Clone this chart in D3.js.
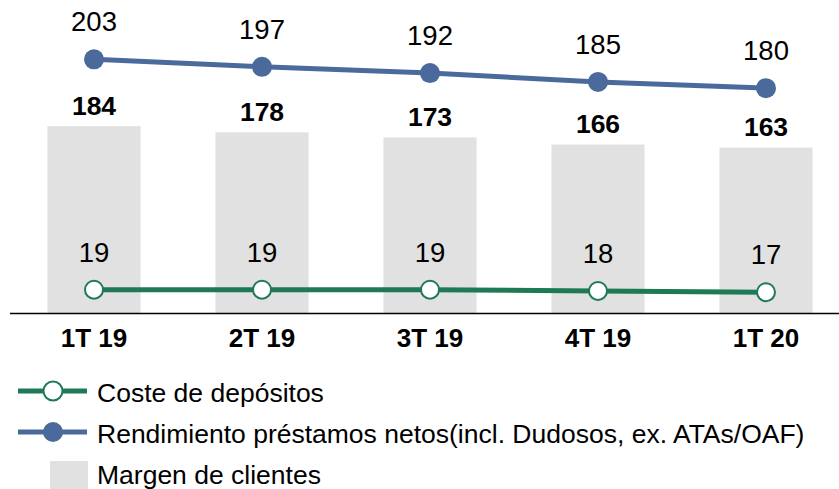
<!DOCTYPE html>
<html lang="es">
<head>
<meta charset="utf-8">
<script src="https://cdn.jsdelivr.net/npm/d3@7"></script>
<style>
  body{margin:0;background:#fff;}
  text{font-family:"Liberation Sans",Arial,sans-serif;fill:#000;}
</style>
</head>
<body>
<div id="chart"></div>
<script>
// data
var categories=["1T 19","2T 19","3T 19","4T 19","1T 20"];
var margen=[184,178,173,166,163];
var rendimiento=[203,197,192,185,180];
var coste=[19,19,19,18,17];

var width=839, height=489;
var blue="#4a6a9b", green="#1e7a56", grey="#e1e1e1";

var svg=d3.select("#chart").append("svg")
  .attr("width",width)
  .attr("height",height);

var x=d3.scaleBand()
  .domain(categories)
  .range([10,850])
  .paddingInner(0.446)
  .paddingOuter(0.223);

var yBar=d3.scaleLinear().domain([0,308]).range([313.5,0]);
var yLine=d3.scaleLinear().domain([0,250.4]).range([313.5,0]);

var cx=function(d,i){return x(categories[i])+x.bandwidth()/2;};

//bars
svg.selectAll(".bar")
  .data(margen)
  .enter()
  .append("rect")
  .attr("class","bar")
  .attr("x",function(d,i){return x(categories[i]);})
  .attr("y",function(d){return yBar(d);})
  .attr("width",x.bandwidth())
  .attr("height",function(d){return yBar(0)-yBar(d);})
  .attr("fill",grey);

svg.selectAll(".barlabel")
  .data(margen)
  .enter()
  .append("text")
  .attr("x",cx)
  .attr("y",function(d){return yBar(d)-11.5;})
  .attr("text-anchor","middle")
  .style("font-size","26.5px")
  .style("font-weight","bold")
  .text(function(d){return d;});

//axis
var xAxis=d3.axisBottom(x).tickSize(0).tickPadding(15);
var gx=svg.append("g")
  .attr("transform","translate(0,"+yBar(0)+")")
  .call(xAxis);
gx.select(".domain").attr("stroke","#000").attr("stroke-width",1.5).attr("d","M10,0H850");
gx.selectAll("text")
  .style("font-size","26px")
  .style("font-weight","bold")
  .style("font-family","'Liberation Sans',Arial,sans-serif");

//lines
function drawLine(values,color,filled){
  var line=d3.line()
    .x(function(d,i){return cx(d,i);})
    .y(function(d){return yLine(d);});

  svg.append("path")
    .datum(values)
    .attr("fill","none")
    .attr("stroke",color)
    .attr("stroke-width",5)
    .attr("d",line);

  svg.append("g").selectAll("circle")
    .data(values)
    .enter()
    .append("circle")
    .attr("cx",cx)
    .attr("cy",function(d){return yLine(d);})
    .attr("r",filled?10:9)
    .attr("fill",filled?color:"#fff")
    .attr("stroke",color)
    .attr("stroke-width",filled?0:2);

  svg.append("g").selectAll("text")
    .data(values)
    .enter()
    .append("text")
    .attr("x",cx)
    .attr("y",function(d){return yLine(d)-28;})
    .attr("text-anchor","middle")
    .style("font-size","27.5px")
    .text(function(d){return d;});
}
drawLine(rendimiento,blue,true);
drawLine(coste,green,false);

//legend
var legend=svg.append("g");
var items=[
  {name:"Coste de depósitos",type:"open",color:green,y:391},
  {name:"Rendimiento préstamos netos(incl. Dudosos, ex. ATAs/OAF)",type:"filled",color:blue,y:432},
  {name:"Margen de clientes",type:"bar",color:grey,y:474}
];
items.forEach(function(it){
  if(it.type=="bar"){
    legend.append("rect")
      .attr("x",50).attr("y",it.y-13)
      .attr("width",38).attr("height",38)
      .attr("fill",it.color);
  }
  else{
    legend.append("line")
      .attr("x1",18).attr("x2",87)
      .attr("y1",it.y).attr("y2",it.y)
      .attr("stroke",it.color).attr("stroke-width",5);
    legend.append("circle")
      .attr("cx",53).attr("cy",it.y)
      .attr("r",it.type=="filled"?10:9.5)
      .attr("fill",it.type=="filled"?it.color:"#fff")
      .attr("stroke",it.color)
      .attr("stroke-width",it.type=="filled"?0:2);
  }
  legend.append("text")
    .attr("x",97)
    .attr("y",it.y+(it.type=="bar"?10:11))
    .style("font-size","26.5px")
    .text(it.name);
});
</script>
</body>
</html>
